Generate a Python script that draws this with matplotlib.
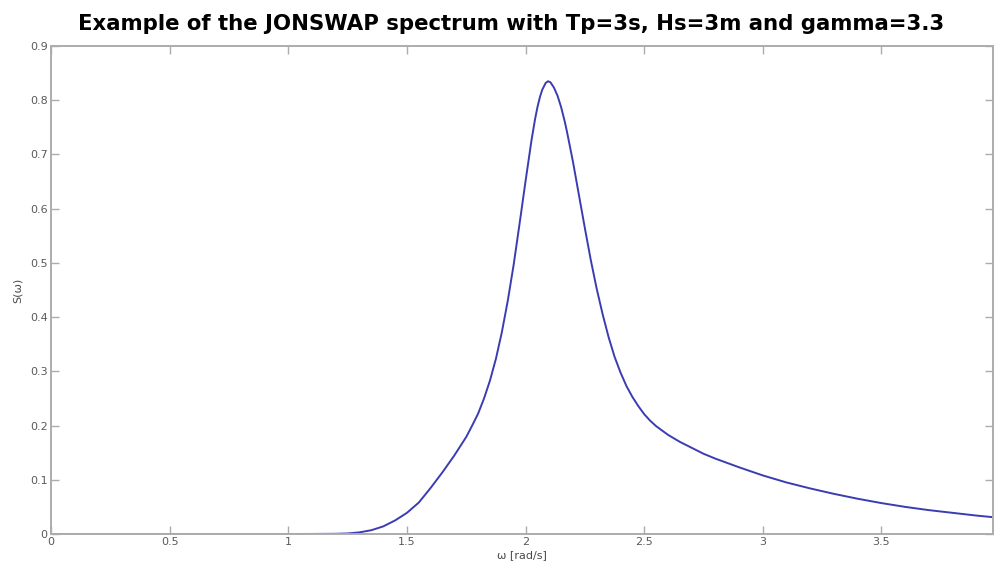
import matplotlib
matplotlib.use("Agg")
import matplotlib.pyplot as plt

omega = [0.0, 0.5, 0.9, 1.0, 1.1, 1.2, 1.25, 1.30, 1.35, 1.40, 1.45, 1.50,
         1.55, 1.60, 1.65, 1.70, 1.75, 1.775, 1.80, 1.825, 1.85, 1.875, 1.90,
         1.925, 1.95, 1.975, 2.00, 2.025, 2.04, 2.05, 2.06, 2.07, 2.085, 2.095, 2.105,
         2.12, 2.135, 2.15, 2.165, 2.175, 2.20, 2.225, 2.25, 2.275, 2.30, 2.325, 2.35,
         2.375, 2.40, 2.425, 2.45, 2.475, 2.50, 2.525, 2.55, 2.60, 2.65, 2.70,
         2.75, 2.80, 2.90, 3.00, 3.10, 3.20, 3.30, 3.40, 3.50, 3.60, 3.70,
         3.80, 3.90, 3.97]
spectrum = [0.0, 0.0, 0.0, 0.0, 0.0001, 0.0004, 0.001, 0.003, 0.007, 0.014, 0.025, 0.039,
            0.058, 0.085, 0.114, 0.145, 0.179, 0.200, 0.222, 0.250, 0.283, 0.323, 0.372,
            0.430, 0.497, 0.573, 0.651, 0.726, 0.765, 0.787, 0.805, 0.819, 0.832, 0.835, 0.833,
            0.823, 0.808, 0.787, 0.761, 0.741, 0.686, 0.625, 0.564, 0.505, 0.452, 0.405, 0.363,
            0.327, 0.298, 0.273, 0.253, 0.236, 0.221, 0.209, 0.199, 0.183, 0.170, 0.159,
            0.148, 0.139, 0.123, 0.108, 0.095, 0.084, 0.074, 0.065, 0.057, 0.050, 0.044,
            0.039, 0.034, 0.031]

xticks = [0, 0.5, 1, 1.5, 2, 2.5, 3, 3.5]
xticklabels = ["0", "0.5", "1", "1.5", "2", "2.5", "3", "3.5"]
yticks = [0, 0.1, 0.2, 0.3, 0.4, 0.5, 0.6, 0.7, 0.8, 0.9]
yticklabels = ["0", "0.1", "0.2", "0.3", "0.4", "0.5", "0.6", "0.7", "0.8", "0.9"]

title = "Example of the JONSWAP spectrum with Tp=3s, Hs=3m and gamma=3.3"

plt.rcParams['font.family'] = ['DejaVu Sans']

fig = plt.figure(figsize=(9.95, 5.67), dpi=100)
ax = fig.add_axes([51/995, 33/567, (993-51)/995, (534-46)/567])

ax.plot(omega, spectrum, color='#3c3cb2', linewidth=1.4)

ax.set_xlim(0, 3.97)
ax.set_ylim(0, 0.9)
ax.set_xticks(xticks)
ax.set_xticklabels(xticklabels)
ax.set_yticks(yticks)
ax.set_yticklabels(yticklabels)

gray = '#acacac'
for s in ax.spines.values():
    s.set_color(gray)
    s.set_linewidth(1.4)
ax.tick_params(direction='in', length=5.5, width=1.0, color=gray,
               labelsize=8, labelcolor='#5a5a5a', top=True, right=True, pad=2.5)

ax.set_xlabel("ω [rad/s]", fontsize=8, color='#4a4a4a', labelpad=2)
ax.set_ylabel("S(ω)", fontsize=8, color='#4a4a4a', labelpad=5)

fig.text(511/995, 1 - 24/567, title, ha='center', va='center',
         fontsize=15.3, fontweight='bold', color='black')

fig.savefig("out.png", dpi=100)
